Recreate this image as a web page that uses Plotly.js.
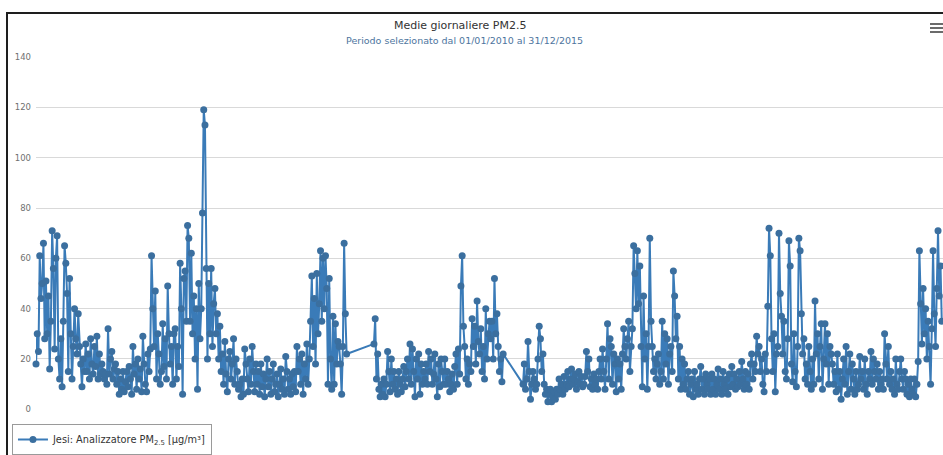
<!DOCTYPE html>
<html>
<head>
<meta charset="utf-8">
<script src="https://cdn.plot.ly/plotly-3.0.1.min.js"></script>
<style>
  html, body { margin: 0; padding: 0; background: #ffffff; }
  #wrap { position: relative; width: 943px; height: 455px; overflow: hidden; }
  #chart { position: absolute; left: 0; top: 0; width: 943px; height: 455px; }
  .frame { position: absolute; background: #1e1e1e; pointer-events: none; }
  .menu { position: absolute; background: #6b6b6b; pointer-events: none; height: 2px; }
</style>
</head>
<body>
<div id="wrap">
  <div id="chart"></div>
  <div class="frame" style="left:6px; top:12px; width:937px; height:2px;"></div>
  <div class="frame" style="left:6px; top:12px; width:2px; height:443px;"></div>
  <div class="menu" style="left:930px; top:23px; width:15px;"></div>
  <div class="menu" style="left:930px; top:27px; width:15px;"></div>
  <div class="menu" style="left:930px; top:31px; width:15px;"></div>
</div>
<script>
// null = missing data (the line is drawn across the gap, without markers).
const seriesName = 'Jesi: Analizzatore PM<sub>2.5</sub> [µg/m³]';
const titleText = 'Medie giornaliere PM2.5';
const subtitleText = 'Periodo selezionato dal 01/01/2010 al 31/12/2015';
const startDate = '2010-01-01';
const endDate = '2015-12-31';
const sampleStepDays = 3;

const pm25_2010 = [
  18,30,23,61,44,50,66,28,
  51,30,45,16,35,71,56,24,
  60,69,20,12,28,9,35,65,
  58,46,15,52,30,12,25,40,
  28,22,38,25,18,9,20,15,
  26,15,22,12,28,18,14,25,
  17,29,12,22,14,18,15,12,
  14,10,32,14,20,23,12,16,
  18,10,15,6,12,8,15,7,
  11,15,9,17,12,6,25,14,
  18,8,20,12,16,7,29,18,
  10,7,22,15,24,61,40,25,
  47,12,30,22,10,15,34,17,
  28,12,49,30,18,25,10,30,
  32,12,25,17,58,40,6,52,
  55,35];
const pm25_2011 = [
  73,68,35,62,30,45,20,40,
  8,50,28,40,78,119,113,56,
  20,50,30,56,25,42,48,30,
  38,20,33,15,22,10,27,14,
  7,20,23,12,18,28,10,20,
  15,8,10,5,12,6,24,18,
  12,7,20,10,25,15,7,18,
  10,15,6,18,9,14,5,12,
  20,9,15,6,12,18,7,10,
  14,5,10,16,8,12,6,21,
  15,8,12,6,14,9,15,7,
  25,15,20,10,22,6,18,12,
  26,10,20,35,53,25,44,18,
  54,30,42,63,35,60,40,61,
  48,10,52,20,8,37,10,34,
  18,27];
const pm25_2012 = [
  25,18,6,25,66,38,22,
  null,null,null,null,null,null,null,null,null,null,
  null,null,null,null,null,null,null,null,null,null,null,
  26,
  36,12,22,8,5,10,6,12,
  5,10,23,15,7,20,10,15,
  8,12,6,15,10,7,12,17,
  9,15,20,12,26,10,24,15,
  5,20,12,22,6,18,10,15,
  12,18,10,23,15,20,10,14,
  22,12,5,18,9,20,15,10,
  20,10,15,12,7,10,14,8,
  17,22,10,24,14,49,61,33,
  25,12,20,10,18,15,36,25,
  33,18,43,27,22,32,15,25,
  12,40,20,30,35];
const pm25_2013 = [
  28,35,20,52,30,38,25,15,20,11,22,
  null,null,null,null,null,null,null,null,null,null,null,null,null,null,null,
  10,
  18,8,12,27,15,4,10,15,
  12,8,10,20,33,28,15,22,
  10,6,8,3,6,8,3,5,
  7,4,8,6,12,8,10,6,
  13,8,10,15,9,12,16,10,
  12,14,8,11,15,10,13,9,
  10,13,23,15,20,9,12,8,
  14,10,12,8,15,20,12,24,
  15,8,20,34,12,28,25,10,
  22,18,7,20,12,18,8,22,
  32,25,20,28,35,15,25,32,
  65,54,40,63,42,57,25];
const pm25_2014 = [
  9,45,20,30,8,25,68,35,
  25,15,20,12,18,22,10,15,
  35,12,30,18,28,10,22,25,
  15,55,45,28,37,12,25,8,
  20,10,18,8,12,15,6,10,
  12,5,15,8,10,6,12,17,
  8,12,6,14,10,8,12,6,
  14,8,12,6,10,16,8,12,
  6,15,10,8,12,6,14,9,
  17,10,14,8,12,9,15,10,
  19,12,8,15,10,14,8,18,
  22,12,18,15,29,22,25,15,
  20,10,7,22,15,41,72,61,
  28,15,30,7,22,25,70,46,
  37,22,35,15,12,28,67,57,
  18,11];
const pm25_2015 = [
  30,15,9,25,68,63,38,22,
  28,12,18,10,25,15,8,20,
  10,43,22,30,12,25,34,8,
  20,34,18,30,10,25,22,18,
  10,15,7,22,8,15,4,12,
  20,10,25,6,15,22,8,18,
  12,6,15,8,10,21,12,15,
  8,20,10,6,15,12,23,10,
  20,15,12,18,8,15,10,12,
  8,30,18,12,25,10,15,8,
  12,6,20,10,8,15,20,12,
  8,15,12,6,10,5,12,8,
  6,12,5,10,19,63,42,26,
  48,30,40,20,35,25,10,32,
  63,38,25,48,71,45,57,35];

const yTickValues = [0, 20, 40, 60, 80, 100, 120, 140];

const values = [].concat(pm25_2010, pm25_2011, pm25_2012, pm25_2013, pm25_2014, pm25_2015);

const trace = {
  type: 'scatter',
  mode: 'lines+markers',
  name: seriesName,
  x0: startDate,
  dx: sampleStepDays * 24 * 3600 * 1000,
  y: values,
  connectgaps: true,
  cliponaxis: false,
  line: { color: '#3a7bb8', width: 2 },
  marker: { color: '#3b6f9f', size: 7, symbol: 'circle', line: { width: 0 } },
  hoverinfo: 'x+y'
};

const FONT = 'DejaVu Sans, Verdana, sans-serif';

const layout = {
  width: 943,
  height: 455,
  autosize: false,
  margin: { l: 36, r: 0, t: 57, b: 0, pad: 0 },
  paper_bgcolor: '#ffffff',
  plot_bgcolor: '#ffffff',
  font: { family: FONT, color: '#333333' },
  title: {
    text: titleText,
    font: { family: FONT, size: 11, color: '#333333' },
    xref: 'container', x: 0.488, xanchor: 'center',
    yref: 'container', y: 0.945, yanchor: 'middle'
  },
  annotations: [{
    text: subtitleText,
    xref: 'paper', yref: 'paper',
    x: 0.472, y: 1.0427, xanchor: 'center', yanchor: 'middle',
    showarrow: false,
    font: { family: FONT, size: 9.5, color: '#4d759e' }
  }],
  xaxis: {
    type: 'date',
    range: [startDate, endDate],
    showticklabels: false,
    showgrid: false,
    zeroline: false,
    showline: false,
    ticks: '',
    fixedrange: true
  },
  yaxis: {
    domain: [0.10804, 1],
    range: [0, 140],
    tickvals: yTickValues,
    ticktext: yTickValues.map(String),
    showgrid: true,
    gridcolor: '#d9d9d9',
    gridwidth: 1,
    zeroline: false,
    showline: false,
    ticks: '',
    ticklabelstandoff: 4,
    tickfont: { family: FONT, size: 8.5, color: '#707070' },
    fixedrange: true
  },
  showlegend: true,
  legend: {
    orientation: 'h',
    x: -0.0265, xanchor: 'left',
    y: 0.0704, yanchor: 'top',
    bgcolor: '#ffffff',
    bordercolor: '#9a9a9a',
    borderwidth: 1,
    itemwidth: 30,
    font: { family: FONT, size: 9.8, color: '#333333' }
  }
};

Plotly.newPlot('chart', [trace], layout, { displayModeBar: false, staticPlot: true });
</script>
</body>
</html>
